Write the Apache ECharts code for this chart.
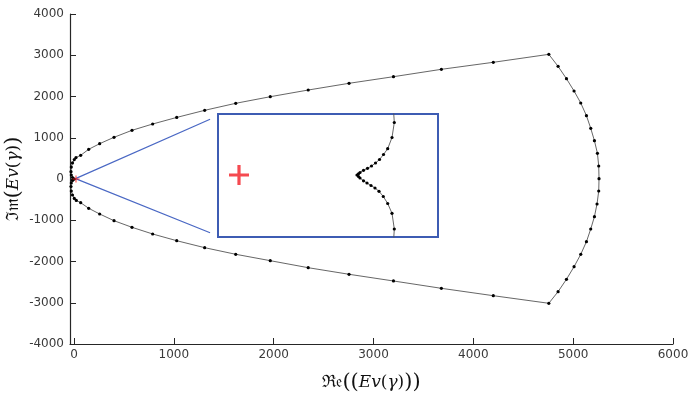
<!DOCTYPE html>
<html>
<head>
<meta charset="utf-8">
<script src="https://cdn.jsdelivr.net/npm/echarts@6/dist/echarts.min.js"></script>
<style>
  html, body { margin: 0; padding: 0; background: #fff; }
  #main { width: 690px; height: 397px; }
</style>
</head>
<body>
<div id="main"></div>
<script>
// eigenvalue path Ev(gamma): upper branch (from the cusp near 0 out to the corner)
var topRe = [0, -15, -27, -30, -27, -15, 3, 20, 67, 147, 257, 401, 581, 788, 1029, 1309, 1620, 1966, 2346, 2755, 3200, 3680, 4200, 4756];
var topIm = [0, 36, 97, 177, 290, 390, 470, 520, 574, 720, 856, 1011, 1180, 1333, 1493, 1665, 1835, 1995, 2157, 2320, 2480, 2659, 2829, 3022];
// right arc
var arcRe = [4849, 4933, 5009, 5076, 5133, 5176, 5213, 5243, 5256, 5259, 5256, 5239, 5213, 5176, 5133, 5076, 5009, 4933, 4849];
var arcIm = [2731, 2431, 2133, 1842, 1535, 1228, 929, 622, 315, 7, -291, -606, -913, -1212, -1519, -1826, -2125, -2431, -2731];
// lower branch back to the cusp
var botRe = [4756, 4200, 3680, 3200, 2755, 2346, 1966, 1620, 1309, 1029, 788, 581, 401, 257, 147, 67, 23, 3, -15, -27, -30, -27, -15, 0];
var botIm = [-3013, -2829, -2650, -2472, -2310, -2150, -1980, -1825, -1665, -1496, -1333, -1171, -1011, -848, -710, -574, -520, -470, -388, -291, -182, -97, -36, 0];

// zoomed view near the origin (inset units)
var insetUpRe = [154.5, 155.3, 153, 148.7, 144.5, 140.5, 136.5, 132.5, 128.5, 124.5, 121, 119.5, 118];
var insetUpIm = [65, 52.5, 37.5, 26.3, 20.5, 15.5, 12, 9, 6.7, 4.7, 2.5, 1.2, 0];
var insetLowRe = [119.5, 121, 124.5, 128, 132, 136, 140, 144.3, 148.7, 153, 155.3, 154.5];
var insetLowIm = [-1.5, -3, -5.8, -8, -10.5, -13, -16.3, -21.5, -28.5, -38.3, -54, -67];
var insetMark = [0, 0];

// zoom marker lines (main axes)
var linkRe = [1363, 15, 1363];
var linkIm = [1447, 10, -1302];
var originMark = [20, 0];

var xTicks = [0, 1000, 2000, 3000, 4000, 5000, 6000];
var yTicks = [-4000, -3000, -2000, -1000, 0, 1000, 2000, 3000, 4000];

function zip(a, b) {
    var out = [];
    for (var i = 0; i < a.length; i++) out.push([a[i], b[i]]);
    return out;
}

var loop = zip(topRe, topIm).concat(zip(arcRe, arcIm), zip(botRe, botIm));
var insetCurve = zip(insetUpRe, insetUpIm).concat(zip(insetLowRe, insetLowIm));

var plusPath = 'path://M0.42,0L0.58,0L0.58,0.42L1,0.42L1,0.58L0.58,0.58L0.58,1L0.42,1L0.42,0.58L0,0.58L0,0.42L0.42,0.42Z';
var axisCol = '#262626';
var labelCol = '#3a3a3a';
var blue = '#3d5cb3';

var richName = {
    fr: { fontFamily: 'DejaVu Serif', fontSize: 17, color: '#111' },
    it: { fontFamily: 'DejaVu Serif', fontStyle: 'italic', fontSize: 17, color: '#111' },
    n: { fontFamily: 'DejaVu Serif', fontSize: 17, color: '#111' },
    bp: { fontFamily: 'DejaVu Serif', fontSize: 21, color: '#111' }
};

var chart = echarts.init(document.getElementById('main'), null, { renderer: 'canvas' });
chart.setOption({
    backgroundColor: '#fff',
    animation: false,
    grid: [
        { left: 70, right: 17, top: 14, bottom: 53, outerBoundsMode: 'none', containLabel: false },
        { left: 218, top: 114, width: 220, height: 123, show: true, outerBoundsMode: 'none',
          borderColor: blue, borderWidth: 2, backgroundColor: '#fff', z: 3 }
    ],
    xAxis: [{
        type: 'value', min: -40, max: 6000, splitNumber: 6,
        axisLine: { onZero: false, lineStyle: { color: axisCol, width: 1.2 } },
        axisTick: { inside: true, length: 6, lineStyle: { color: axisCol } },
        axisLabel: { showMinLabel: false, color: labelCol, fontSize: 12, fontFamily: 'DejaVu Sans', margin: 5,
            formatter: function (v) { return xTicks.indexOf(v) >= 0 ? String(v) : ''; } },
        splitLine: { show: false },
        name: '{fr|ℜ𝔢}{bp|((}{it|Ev}{n|(}{it|γ}{n|)}{bp|))}',
        nameLocation: 'middle', nameGap: 28, nameMoveOverlap: false,
        nameTextStyle: { rich: richName }
    }, {
        gridIndex: 1, type: 'value', min: -21, max: 199, show: false
    }],
    yAxis: [{
        type: 'value', min: yTicks[0], max: yTicks[yTicks.length - 1], interval: 1000,
        axisLine: { onZero: false, lineStyle: { color: axisCol, width: 1.2 } },
        axisTick: { inside: true, length: 6, lineStyle: { color: axisCol } },
        axisLabel: { color: labelCol, fontSize: 12, fontFamily: 'DejaVu Sans', margin: 6,
            formatter: function (v) { return String(v); } },
        splitLine: { show: false },
        name: '{fr|ℑ𝔪}{bp|(}{it|Ev}{n|(}{it|γ}{n|)}{bp|)}',
        nameLocation: 'middle', nameGap: 46, nameMoveOverlap: false,
        nameTextStyle: { rich: richName }
    }, {
        gridIndex: 1, type: 'value', min: -62, max: 61, show: false
    }],
    series: [{
        type: 'line', data: loop, z: 4,
        symbol: 'circle', symbolSize: 3.2,
        itemStyle: { color: '#000' },
        lineStyle: { color: '#555', width: 0.9 }
    }, {
        type: 'line', data: zip(linkRe, linkIm), z: 2,
        symbol: 'none',
        lineStyle: { color: '#4a68c4', width: 1.2 }
    }, {
        type: 'scatter', data: [originMark], z: 5,
        symbol: plusPath, symbolSize: 7,
        itemStyle: { color: '#ff1f1f' }
    }, {
        type: 'line', data: insetCurve, xAxisIndex: 1, yAxisIndex: 1, z: 6,
        clip: true,
        symbol: 'circle', symbolSize: 3.2,
        itemStyle: { color: '#000' },
        lineStyle: { color: '#555', width: 0.9 }
    }, {
        type: 'scatter', data: [insetMark], xAxisIndex: 1, yAxisIndex: 1, z: 6,
        symbol: plusPath, symbolSize: 20,
        itemStyle: { color: '#f21d24' }
    }]
});
</script>
</body>
</html>
